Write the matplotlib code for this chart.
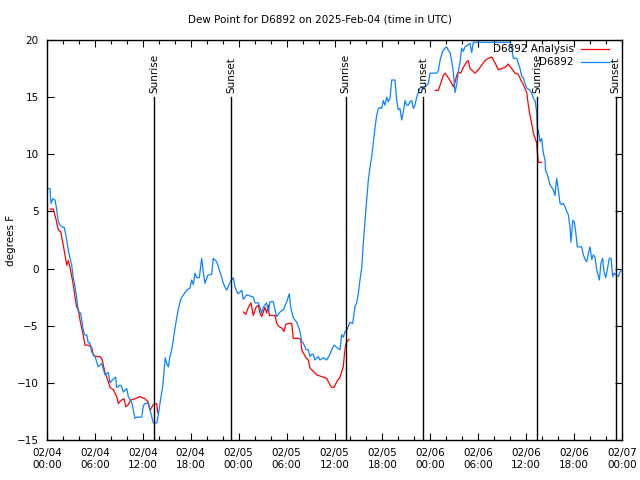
import matplotlib
matplotlib.use('Agg')
from matplotlib import pyplot as plt
from matplotlib.ticker import MultipleLocator, FuncFormatter

# hours since 2025-02-04 00:00 UTC, dew point in F
obs_hours = [0.0, 0.38, 0.50, 0.71, 1.0, 1.21, 1.41, 1.63, 1.97, 2.17, 2.47, 2.67, 2.88, 3.09, 3.29, 3.51,
	3.72, 3.92, 4.22, 4.47, 4.67, 4.97, 5.17, 5.38, 5.60, 6.01, 6.42, 6.85, 7.26, 7.68, 7.89, 8.26, 8.60,
	8.73, 9.14, 9.35, 9.55, 9.98, 10.18, 10.61, 11.02, 11.23, 11.86, 12.06, 12.27, 12.68, 12.90, 13.11,
	13.31, 13.74, 13.94, 14.21, 14.49, 14.65, 14.81, 14.99, 15.19, 15.40, 15.61, 15.82, 16.03, 16.24,
	16.44, 16.74, 17.07, 17.49, 17.91, 18.12, 18.32, 18.53, 18.74, 19.07, 19.37, 19.57, 19.78, 20.12,
	20.62, 20.82, 21.25, 21.66, 21.88, 22.08, 22.50, 22.92, 23.33, 23.54, 23.75, 23.95, 24.38, 24.58,
	25.01, 25.83, 26.04, 26.46, 26.67, 26.88, 27.08, 27.50, 27.71, 27.92, 28.33, 28.55, 28.76, 29.18,
	29.59, 30.02, 30.34, 30.52, 30.84, 31.27, 31.68, 31.89, 32.09, 32.43, 32.72, 32.93, 33.15, 33.35,
	33.56, 33.97, 34.18, 34.60, 35.02, 35.44, 35.65, 35.94, 36.28, 36.69, 36.90, 37.10, 37.32, 37.53,
	37.94, 38.28, 38.57, 38.78, 38.98, 39.19, 39.41, 39.61, 39.82, 40.03, 40.23, 40.45, 40.66, 40.86,
	41.07, 41.28, 41.49, 41.70, 41.91, 42.11, 42.32, 42.54, 42.74, 42.95, 43.16, 43.58, 43.79, 43.99,
	44.20, 44.42, 44.62, 44.83, 45.04, 45.24, 45.45, 45.67, 45.87, 46.08, 46.29, 46.71, 47.33, 47.75,
	47.96, 48.80, 49.00, 49.21, 49.54, 49.84, 50.05, 50.25, 50.46, 50.67, 50.88, 51.09, 51.30, 51.50,
	51.72, 51.93, 52.13, 52.34, 52.75, 52.97, 53.18, 53.38, 57.98, 58.19, 58.39, 58.82, 59.23, 59.44,
	59.64, 59.85, 60.07, 60.48, 60.69, 60.89, 61.11, 61.32, 61.40, 61.52, 61.73, 61.94, 62.15, 62.36,
	62.42, 62.57, 62.77, 62.99, 63.20, 63.40, 63.61, 63.82, 64.02, 64.24, 64.45, 64.65, 64.86, 65.08,
	65.28, 65.49, 65.61, 65.83, 66.03, 66.24, 66.40, 66.95, 67.16, 67.37, 67.58, 67.78, 67.99, 68.21,
	68.41, 68.62, 68.83, 69.16, 69.37, 69.58, 69.75, 69.96, 70.16, 70.41, 70.62, 70.84, 71.04, 71.34,
	71.54, 71.75, 71.96]
obs_dew = [7.0, 7.0, 5.7, 6.1, 6.0, 5.2, 4.1, 3.8, 3.6, 3.6, 2.5, 1.6, 0.9, 0.3, -0.8, -1.6,
	-2.6, -3.8, -3.9, -5.1, -5.8, -5.8, -6.5, -6.5, -7.3, -7.7, -8.6, -8.3, -9.3, -9.1, -10.0, -9.7, -9.5,
	-10.4, -10.2, -10.3, -10.8, -10.5, -11.2, -11.7, -13.1, -13.0, -13.0, -12.0, -11.8, -11.8, -12.4, -13.0,
	-13.5, -13.5, -12.8, -11.5, -10.3, -9.1, -7.8, -8.3, -8.6, -7.7, -7.1, -6.2, -5.2, -4.3,
	-3.6, -2.7, -2.3, -1.9, -1.7, -1.0, -1.4, -0.4, -0.8, -0.8, 0.9, -0.3, -1.3, -0.6,
	-0.5, 0.9, 0.6, -0.3, -0.8, -1.3, -1.9, -1.2, -0.8, -1.6, -2.0, -2.2, -1.9, -2.7,
	-2.3, -2.5, -3.0, -3.0, -3.4, -3.9, -3.4, -3.0, -3.8, -2.9, -2.9, -3.6, -4.2, -3.8,
	-3.6, -2.9, -2.2, -3.4, -4.3, -4.7, -5.5, -6.4, -6.5, -7.1, -7.1, -7.7, -7.5, -7.5,
	-8.0, -7.7, -8.0, -7.8, -8.0, -7.5, -7.1, -6.7, -6.9, -7.1, -5.8, -6.0, -5.5, -5.4,
	-4.7, -4.8, -3.3, -3.0, -2.2, -1.0, 0.1, 2.2, 4.2, 6.0, 7.7, 8.9, 9.8, 11.0,
	12.3, 13.4, 14.0, 14.1, 14.0, 14.7, 14.3, 15.0, 14.6, 14.9, 16.5, 16.5, 14.7, 13.9,
	14.0, 13.0, 13.7, 14.7, 14.3, 14.3, 14.6, 14.7, 14.0, 14.3, 15.0, 15.8, 15.9, 16.2,
	17.1, 17.1, 17.3, 18.2, 19.0, 19.3, 19.4, 19.1, 18.9, 18.2, 17.2, 15.4, 16.1, 17.2,
	18.1, 19.3, 19.0, 19.4, 19.6, 19.7, 18.9, 19.8, 19.8, 19.3, 18.4, 18.4, 17.5, 16.8,
	16.7, 16.2, 15.8, 15.6, 15.4, 14.9, 14.7, 13.7, 12.2, 12.1, 11.1, 11.4, 10.1, 9.5,
	8.6, 8.4, 7.9, 7.3, 7.1, 6.9, 6.4, 7.9, 6.9, 5.7, 5.6, 5.7, 5.4, 5.0,
	4.7, 3.6, 2.3, 4.2, 4.1, 3.0, 1.9, 1.9, 1.2, 0.8, 0.6, 1.3, 1.9, 0.8,
	1.2, 1.0, -0.1, -1.0, 0.5, 0.9, -0.3, -0.8, -0.1, 0.9, 0.9, -0.7, -0.4, -0.6,
	-0.7, -0.3, -0.1]

# analysis comes in three pieces with gaps between them
ana1_hours = [0.38, 0.79, 1.13, 1.41, 1.72, 1.97, 2.25, 2.47, 2.67, 2.88, 3.29, 3.51, 3.72, 3.92, 4.13,
	4.47, 4.76, 5.17, 5.60, 5.80, 6.22, 6.64, 6.92, 7.26, 7.68, 7.89, 8.30, 8.73, 8.93, 9.35, 9.64, 9.89,
	10.18, 10.48, 11.02, 11.65, 12.27, 12.68, 12.90, 13.31, 13.74, 13.86]
ana1_dew = [5.2, 5.2, 4.3, 3.4, 3.2, 2.3, 1.2, 0.3, 0.7, 0.1, -1.4, -2.5, -3.4, -3.5, -4.5,
	-5.6, -6.7, -6.7, -6.9, -7.6, -7.7, -7.7, -8.0, -9.1, -9.9, -10.4, -10.6, -11.2, -11.8, -11.5, -11.4, -12.1,
	-11.9, -11.5, -11.4, -11.2, -11.4, -11.7, -12.4, -11.9, -11.8, -12.6]
ana2_hours = [24.58, 24.88, 25.21, 25.54, 25.83, 26.17, 26.46, 26.67, 26.88, 27.08, 27.30, 27.50, 27.71,
	27.84, 28.55, 28.76, 29.09, 29.39, 29.68, 29.89, 30.22, 30.64, 30.84, 31.47, 31.77, 31.89, 32.18,
	32.43, 32.72, 32.93, 33.35, 33.77, 34.18, 34.60, 35.02, 35.44, 35.65, 35.94, 36.28, 36.69, 36.90,
	37.10, 37.23, 37.35, 37.53, 37.82]
ana2_dew = [-3.8, -4.0, -3.4, -3.0, -4.1, -3.4, -3.2, -3.9, -4.2, -3.8, -3.4, -3.9, -3.2,
	-4.1, -4.1, -4.8, -5.1, -5.2, -5.5, -4.9, -4.8, -4.8, -6.1, -6.1, -6.2, -7.1, -7.5,
	-7.8, -8.0, -8.7, -9.0, -9.3, -9.4, -9.5, -9.6, -10.2, -10.4, -10.4, -9.9, -9.5, -9.0,
	-8.6, -7.6, -6.9, -6.4, -6.2]
ana3_hours = [48.59, 49.00, 49.30, 49.62, 49.84, 50.25, 50.67, 50.88, 51.09, 51.30, 51.50, 51.80, 52.13,
	52.56, 52.75, 52.97, 53.31, 53.59, 54.01, 54.43, 54.85, 55.26, 55.69, 56.10, 56.51, 56.94, 57.35,
	57.76, 58.19, 58.60, 59.02, 59.32, 59.64, 60.07, 60.27, 60.48, 60.69, 60.89, 61.11, 61.32, 61.40,
	61.52, 61.94]
ana3_dew = [15.6, 15.6, 16.2, 16.9, 17.1, 16.7, 16.2, 15.9, 16.3, 16.9, 17.2, 17.1, 17.6,
	18.1, 18.2, 17.5, 17.3, 17.1, 17.4, 17.8, 18.2, 18.4, 18.5, 18.0, 17.4, 17.5, 17.6,
	17.9, 17.5, 17.1, 17.0, 16.5, 16.1, 15.4, 14.3, 13.4, 12.7, 11.9, 11.4, 11.0, 10.2,
	9.3, 9.3]

sun_hours = [13.43, 23.1, 37.4, 47.12, 61.4, 71.2]
sun_labels = ['Sunrise', 'Sunset', 'Sunrise', 'Sunset', 'Sunrise', 'Sunset']

RED = '#ff0000'
BLUE = '#0a84ff'

def tick_label(h, pos):
	day = 4 + int(h // 24)
	hr = int(h % 24)
	return '02/%02d\n%02d:00' % (day, hr)

plt.rcParams['font.family'] = 'DejaVu Sans'
fig = plt.figure(figsize=(6.4, 4.8), dpi=100)
ax = fig.add_axes([47/640, 40/480, 575/640, 400/480])

for hs, ds in [(ana1_hours, ana1_dew), (ana2_hours, ana2_dew), (ana3_hours, ana3_dew)]:
	ax.plot(hs, ds, color=RED, lw=0.9)
ax.plot(obs_hours, obs_dew, color=BLUE, lw=0.9)

# sunrise / sunset markers
for h, lab in zip(sun_hours, sun_labels):
	ax.plot([h, h], [-15, 15], color='black', lw=1.0)
	ax.annotate(lab, (h, 15), xytext=(0, 3), textcoords='offset points', rotation=90,
		ha='center', va='bottom', fontsize=7.5)

ax.set_xlim(0, 72)
ax.set_ylim(-15, 20)
ax.xaxis.set_major_locator(MultipleLocator(6))
ax.xaxis.set_minor_locator(MultipleLocator(2))
ax.yaxis.set_major_locator(MultipleLocator(5))
ax.xaxis.set_major_formatter(FuncFormatter(tick_label))
ax.tick_params(which='both', direction='in', top=True, right=True, labelsize=7.5, width=0.8)
ax.tick_params(which='major', length=5, pad=6)
ax.tick_params(which='minor', length=3)
for s in ax.spines.values():
	s.set_linewidth(1.0)

ax.set_ylabel('degrees F', fontsize=7.5)
ax.yaxis.set_label_coords(-31/575, 0.5)
fig.text(0.5, 1 - 19/480, 'Dew Point for D6892 on 2025-Feb-04 (time in UTC)', ha='center', va='center', fontsize=7.5)

# gnuplot style key: text right aligned, sample after it
ax.text(0.9165, 0.9775, 'D6892 Analysis', transform=ax.transAxes, ha='right', va='center', fontsize=7.5)
ax.plot([0.929, 0.977], [0.9775, 0.9775], transform=ax.transAxes, color=RED, lw=0.9)
ax.text(0.9165, 0.945, 'D6892', transform=ax.transAxes, ha='right', va='center', fontsize=7.5)
ax.plot([0.929, 0.977], [0.945, 0.945], transform=ax.transAxes, color=BLUE, lw=0.9)

fig.savefig('out.png', dpi=100)
